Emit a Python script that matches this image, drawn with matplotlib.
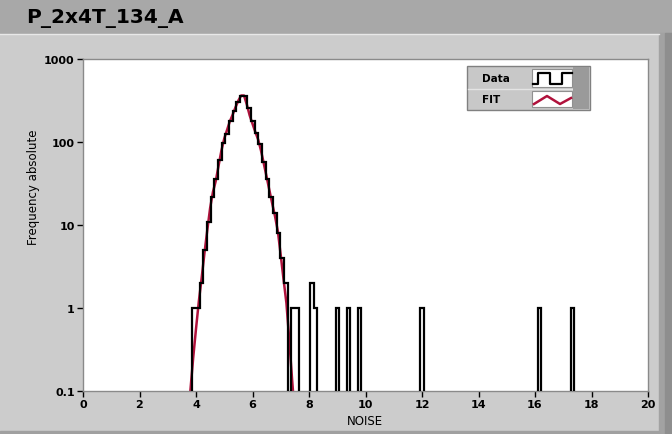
import numpy as np
import matplotlib.pyplot as plt
from matplotlib.patches import Rectangle
from matplotlib.lines import Line2D

# ---------------------------------------------------------------- data
bin_start = 3.74
bin_width = 0.13
core_counts = [0, 1, 1, 2, 5, 11, 22, 36, 60, 98, 125, 180, 235, 300, 355,
               360, 260, 180, 128, 95, 58, 36, 22, 14, 8, 4, 2, 0, 1, 1]
outlier_pos = [8.10, 8.25, 9.02, 9.42, 9.80, 12.00, 16.10, 17.38]
outlier_cnt = [2, 1, 1, 1, 1, 1, 1, 1]

fit_x = [3.70, 3.80, 3.90, 4.00, 4.10, 4.20, 4.30, 4.40, 4.50, 4.60, 4.70, 4.80,
         4.90, 5.00, 5.10, 5.20, 5.30, 5.40, 5.50, 5.60, 5.70, 5.80, 5.90, 6.00,
         6.10, 6.20, 6.30, 6.40, 6.50, 6.60, 6.70, 6.80, 6.90, 7.00, 7.10, 7.20,
         7.30, 7.40, 7.50]
fit_y = [0.045, 0.10, 0.25, 0.56, 1.2, 2.3, 4.6, 8.7, 16, 25, 34, 52,
         79, 110, 140, 178, 214, 263, 316, 363, 363, 282, 209, 166,
         132, 107, 79, 55, 38, 26, 18, 12.6, 8.3, 4.3, 2.2, 1.15,
         0.42, 0.14, 0.05]

title = "P_2x4T_134_A"
x_ticks = list(range(0, 21, 2))
y_ticks = [0.1, 1, 10, 100, 1000]
y_tick_labels = ["0.1", "1", "10", "100", "1000"]

# ---------------------------------------------------------------- histogram bins
edges = bin_start + bin_width * np.arange(0, 112)
counts = np.zeros(len(edges) - 1)
counts[:len(core_counts)] = core_counts
for p, c in zip(outlier_pos, outlier_cnt):
    counts[int((p - bin_start) / bin_width)] += c
counts_plot = np.where(counts > 0, counts, 1e-3)     # zero bins drop off the log axis

W, H = 672, 435
def px(x, y):                                         # pixel -> figure fraction
    return x / W, 1 - y / H

fig = plt.figure(figsize=(W / 100, H / 100), dpi=100, facecolor='#cccccc')

# panel decoration
fig.patches.append(Rectangle(px(0, 34), 1, 34 / H, transform=fig.transFigure, color='#a8a8a8', zorder=0))
fig.patches.append(Rectangle(px(659, 435), 13 / W, (435 - 34) / H, transform=fig.transFigure, color='#a2a2a2', zorder=0))
fig.patches.append(Rectangle(px(665, 435), 7 / W, (435 - 34) / H, transform=fig.transFigure, color='#8e8e8e', zorder=0))
fig.patches.append(Rectangle(px(0, 435), 659 / W, 3 / H, transform=fig.transFigure, color='#a0a0a0', zorder=0))
fig.lines.append(Line2D([0, 659 / W], [1 - 35 / H] * 2, transform=fig.transFigure, color='#e8e8e8', lw=1))
fig.text(*px(26, 18), title, fontsize=14.5, fontweight='bold', family='DejaVu Sans', va='center', ha='left')

ax = fig.add_axes([83 / W, 1 - 392 / H, (648 - 83) / W, (392 - 60) / H])
ax.set_facecolor('white')
ax.stairs(counts_plot, edges, baseline=None, color='black', lw=1.6, zorder=3)
ax.plot(fit_x, fit_y, color='#b0123c', lw=1.8, zorder=2)

ax.set_yscale('log')
ax.set_xlim(0, 20)
ax.set_ylim(0.1, 1000)
ax.set_xticks(x_ticks)
ax.set_xticklabels([str(t) for t in x_ticks])
ax.set_yticks(y_ticks)
ax.set_yticklabels(y_tick_labels)
ax.minorticks_off()
ax.tick_params(axis='both', length=4, width=1, color='black', labelsize=8, pad=2)
for lab in ax.get_xticklabels() + ax.get_yticklabels():
    lab.set_fontweight('bold')
for s in ax.spines.values():
    s.set_color('#8a8a8a')
    s.set_linewidth(1)

fig.text(*px(33, 187), "Frequency absolute", rotation=90, fontsize=8.5, ha='center', va='center')
fig.text(*px(365, 422), "NOISE", fontsize=8.5, ha='center', va='center')

# legend box
fig.patches.append(Rectangle(px(467, 111), (590 - 467) / W, 44 / H, transform=fig.transFigure,
                             facecolor='#c8c8c8', edgecolor='#808080', lw=1, zorder=5))
fig.patches.append(Rectangle(px(573, 110), 16 / W, 42 / H, transform=fig.transFigure,
                             facecolor='#9a9a9a', edgecolor='none', zorder=6))
fig.patches.append(Rectangle(px(532, 88), 40 / W, 18 / H, transform=fig.transFigure,
                             facecolor='white', edgecolor='#909090', lw=0.8, zorder=6))
fig.patches.append(Rectangle(px(532, 108), 40 / W, 16 / H, transform=fig.transFigure,
                             facecolor='white', edgecolor='#909090', lw=0.8, zorder=6))
fig.lines.append(Line2D([468 / W, 572 / W], [1 - 90 / H] * 2, transform=fig.transFigure, color='#e4e4e4', lw=1, zorder=6))
sx = [533, 538, 538, 550, 550, 562, 562, 572]
sy = [85, 85, 74, 74, 85, 85, 74, 74]
fig.lines.append(Line2D([x / W for x in sx], [1 - y / H for y in sy], transform=fig.transFigure,
                        color='black', lw=1.6, zorder=7))
zx = [534, 547, 560, 571]
zy = [105, 97, 105, 99]
fig.lines.append(Line2D([x / W for x in zx], [1 - y / H for y in zy], transform=fig.transFigure,
                        color='#b0123c', lw=1.8, zorder=7))
fig.text(*px(482, 79), "Data", fontsize=7.5, fontweight='bold', va='center', zorder=7)
fig.text(*px(482, 100), "FIT", fontsize=7.5, fontweight='bold', va='center', zorder=7)

fig.savefig('out.png', dpi=100, facecolor=fig.get_facecolor())
